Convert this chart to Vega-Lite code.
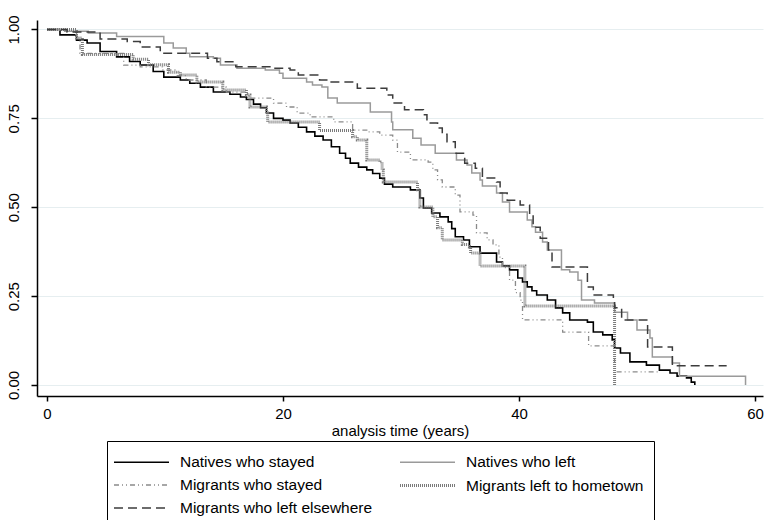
{
  "$schema": "https://vega.github.io/schema/vega-lite/v6.json",
  "width": 726,
  "height": 376,
  "autosize": "none",
  "padding": {"left": 37, "top": 20, "right": 2, "bottom": 124},
  "background": "white",
  "config": {
    "view": {"stroke": null},
    "font": "Liberation Sans",
    "axis": {"labelFont": "Liberation Sans", "titleFont": "Liberation Sans", "labelColor": "black", "titleColor": "black", "domainColor": "black", "tickColor": "black", "domainWidth": 1.5, "tickWidth": 1.5, "labelFontSize": 15, "titleFontSize": 15, "titleFontWeight": "normal"}
  },
  "data": {"values": [
    {"series":"Natives who stayed","t":0,"s":1},{"series":"Natives who stayed","t":1.1,"s":0.985},{"series":"Natives who stayed","t":2.5,"s":0.97},{"series":"Natives who stayed","t":3.4,"s":0.962},{"series":"Natives who stayed","t":4.5,"s":0.938},{"series":"Natives who stayed","t":5.9,"s":0.923},{"series":"Natives who stayed","t":7.0,"s":0.91},{"series":"Natives who stayed","t":7.9,"s":0.9},{"series":"Natives who stayed","t":9.0,"s":0.882},{"series":"Natives who stayed","t":9.9,"s":0.866},{"series":"Natives who stayed","t":11.3,"s":0.858},{"series":"Natives who stayed","t":12.1,"s":0.849},{"series":"Natives who stayed","t":13.0,"s":0.838},{"series":"Natives who stayed","t":14.1,"s":0.824},{"series":"Natives who stayed","t":15.5,"s":0.818},{"series":"Natives who stayed","t":16.4,"s":0.81},{"series":"Natives who stayed","t":16.9,"s":0.803},{"series":"Natives who stayed","t":17.5,"s":0.79},{"series":"Natives who stayed","t":18.1,"s":0.78},{"series":"Natives who stayed","t":18.6,"s":0.765},{"series":"Natives who stayed","t":19.2,"s":0.75},{"series":"Natives who stayed","t":20.0,"s":0.745},{"series":"Natives who stayed","t":20.6,"s":0.737},{"series":"Natives who stayed","t":21.3,"s":0.725},{"series":"Natives who stayed","t":22.0,"s":0.712},{"series":"Natives who stayed","t":22.7,"s":0.7},{"series":"Natives who stayed","t":23.4,"s":0.689},{"series":"Natives who stayed","t":24.1,"s":0.67},{"series":"Natives who stayed","t":24.8,"s":0.652},{"series":"Natives who stayed","t":25.3,"s":0.638},{"series":"Natives who stayed","t":25.7,"s":0.624},{"series":"Natives who stayed","t":26.4,"s":0.613},{"series":"Natives who stayed","t":27.1,"s":0.605},{"series":"Natives who stayed","t":27.6,"s":0.595},{"series":"Natives who stayed","t":28.2,"s":0.582},{"series":"Natives who stayed","t":28.6,"s":0.565},{"series":"Natives who stayed","t":29.3,"s":0.557},{"series":"Natives who stayed","t":30.8,"s":0.549},{"series":"Natives who stayed","t":31.6,"s":0.526},{"series":"Natives who stayed","t":31.9,"s":0.498},{"series":"Natives who stayed","t":32.6,"s":0.484},{"series":"Natives who stayed","t":33.3,"s":0.473},{"series":"Natives who stayed","t":34.0,"s":0.459},{"series":"Natives who stayed","t":34.3,"s":0.44},{"series":"Natives who stayed","t":34.6,"s":0.417},{"series":"Natives who stayed","t":35.3,"s":0.408},{"series":"Natives who stayed","t":35.8,"s":0.389},{"series":"Natives who stayed","t":36.7,"s":0.371},{"series":"Natives who stayed","t":38.1,"s":0.346},{"series":"Natives who stayed","t":38.6,"s":0.335},{"series":"Natives who stayed","t":39.2,"s":0.324},{"series":"Natives who stayed","t":39.9,"s":0.301},{"series":"Natives who stayed","t":40.3,"s":0.29},{"series":"Natives who stayed","t":40.7,"s":0.276},{"series":"Natives who stayed","t":41.1,"s":0.265},{"series":"Natives who stayed","t":41.5,"s":0.253},{"series":"Natives who stayed","t":42.4,"s":0.239},{"series":"Natives who stayed","t":43.1,"s":0.217},{"series":"Natives who stayed","t":43.7,"s":0.203},{"series":"Natives who stayed","t":44.3,"s":0.183},{"series":"Natives who stayed","t":45.8,"s":0.177},{"series":"Natives who stayed","t":46.3,"s":0.149},{"series":"Natives who stayed","t":47.1,"s":0.141},{"series":"Natives who stayed","t":47.9,"s":0.127},{"series":"Natives who stayed","t":48.1,"s":0.104},{"series":"Natives who stayed","t":48.6,"s":0.09},{"series":"Natives who stayed","t":49.4,"s":0.065},{"series":"Natives who stayed","t":50.8,"s":0.056},{"series":"Natives who stayed","t":51.9,"s":0.042},{"series":"Natives who stayed","t":52.8,"s":0.034},{"series":"Natives who stayed","t":53.4,"s":0.025},{"series":"Natives who stayed","t":54.2,"s":0.02},{"series":"Natives who stayed","t":54.6,"s":0.008},{"series":"Natives who stayed","t":54.9,"s":0},
    {"series":"Natives who left","t":0,"s":1},{"series":"Natives who left","t":1.5,"s":0.995},{"series":"Natives who left","t":3.5,"s":0.99},{"series":"Natives who left","t":5.9,"s":0.98},{"series":"Natives who left","t":9.9,"s":0.962},{"series":"Natives who left","t":10.7,"s":0.948},{"series":"Natives who left","t":11.8,"s":0.933},{"series":"Natives who left","t":12.1,"s":0.923},{"series":"Natives who left","t":14.1,"s":0.919},{"series":"Natives who left","t":14.7,"s":0.9},{"series":"Natives who left","t":16.1,"s":0.891},{"series":"Natives who left","t":18.5,"s":0.886},{"series":"Natives who left","t":19.7,"s":0.877},{"series":"Natives who left","t":20.0,"s":0.863},{"series":"Natives who left","t":22.0,"s":0.852},{"series":"Natives who left","t":22.5,"s":0.844},{"series":"Natives who left","t":23.3,"s":0.838},{"series":"Natives who left","t":23.8,"s":0.807},{"series":"Natives who left","t":24.6,"s":0.793},{"series":"Natives who left","t":27.4,"s":0.768},{"series":"Natives who left","t":29.2,"s":0.74},{"series":"Natives who left","t":29.3,"s":0.718},{"series":"Natives who left","t":31.0,"s":0.694},{"series":"Natives who left","t":31.7,"s":0.675},{"series":"Natives who left","t":32.9,"s":0.652},{"series":"Natives who left","t":34.7,"s":0.633},{"series":"Natives who left","t":35.6,"s":0.619},{"series":"Natives who left","t":36.0,"s":0.596},{"series":"Natives who left","t":36.7,"s":0.577},{"series":"Natives who left","t":36.9,"s":0.56},{"series":"Natives who left","t":38.1,"s":0.54},{"series":"Natives who left","t":38.6,"s":0.515},{"series":"Natives who left","t":39.2,"s":0.487},{"series":"Natives who left","t":40.7,"s":0.464},{"series":"Natives who left","t":41.1,"s":0.445},{"series":"Natives who left","t":41.4,"s":0.43},{"series":"Natives who left","t":42.0,"s":0.402},{"series":"Natives who left","t":42.4,"s":0.38},{"series":"Natives who left","t":43.6,"s":0.324},{"series":"Natives who left","t":44.3,"s":0.318},{"series":"Natives who left","t":45.0,"s":0.295},{"series":"Natives who left","t":45.3,"s":0.239},{"series":"Natives who left","t":46.4,"s":0.231},{"series":"Natives who left","t":48.1,"s":0.205},{"series":"Natives who left","t":49.2,"s":0.183},{"series":"Natives who left","t":50.0,"s":0.155},{"series":"Natives who left","t":51.1,"s":0.132},{"series":"Natives who left","t":51.3,"s":0.079},{"series":"Natives who left","t":53.0,"s":0.062},{"series":"Natives who left","t":53.6,"s":0.025},{"series":"Natives who left","t":59.2,"s":0},
    {"series":"Migrants who stayed","t":0,"s":1},{"series":"Migrants who stayed","t":2.5,"s":0.976},{"series":"Migrants who stayed","t":2.8,"s":0.933},{"series":"Migrants who stayed","t":6.5,"s":0.9},{"series":"Migrants who stayed","t":7.9,"s":0.895},{"series":"Migrants who stayed","t":9.8,"s":0.886},{"series":"Migrants who stayed","t":11.0,"s":0.87},{"series":"Migrants who stayed","t":11.8,"s":0.858},{"series":"Migrants who stayed","t":13.5,"s":0.838},{"series":"Migrants who stayed","t":15.2,"s":0.824},{"series":"Migrants who stayed","t":17.0,"s":0.807},{"series":"Migrants who stayed","t":19.2,"s":0.793},{"series":"Migrants who stayed","t":20.3,"s":0.782},{"series":"Migrants who stayed","t":21.2,"s":0.765},{"series":"Migrants who stayed","t":22.3,"s":0.754},{"series":"Migrants who stayed","t":24.3,"s":0.74},{"series":"Migrants who stayed","t":25.9,"s":0.717},{"series":"Migrants who stayed","t":27.1,"s":0.712},{"series":"Migrants who stayed","t":28.2,"s":0.703},{"series":"Migrants who stayed","t":29.3,"s":0.689},{"series":"Migrants who stayed","t":29.7,"s":0.655},{"series":"Migrants who stayed","t":30.8,"s":0.633},{"series":"Migrants who stayed","t":32.3,"s":0.627},{"series":"Migrants who stayed","t":32.7,"s":0.605},{"series":"Migrants who stayed","t":33.1,"s":0.577},{"series":"Migrants who stayed","t":33.5,"s":0.557},{"series":"Migrants who stayed","t":34.6,"s":0.534},{"series":"Migrants who stayed","t":35.0,"s":0.487},{"series":"Migrants who stayed","t":36.1,"s":0.478},{"series":"Migrants who stayed","t":36.4,"s":0.428},{"series":"Migrants who stayed","t":37.3,"s":0.408},{"series":"Migrants who stayed","t":37.8,"s":0.394},{"series":"Migrants who stayed","t":38.3,"s":0.36},{"series":"Migrants who stayed","t":38.6,"s":0.33},{"series":"Migrants who stayed","t":39.2,"s":0.295},{"series":"Migrants who stayed","t":39.7,"s":0.26},{"series":"Migrants who stayed","t":40.1,"s":0.239},{"series":"Migrants who stayed","t":40.3,"s":0.183},{"series":"Migrants who stayed","t":43.7,"s":0.149},{"series":"Migrants who stayed","t":45.9,"s":0.11},{"series":"Migrants who stayed","t":48.1,"s":0.037},{"series":"Migrants who stayed","t":51.9,"s":0.037},
    {"series":"Migrants left to hometown","t":0,"s":1},{"series":"Migrants left to hometown","t":2.5,"s":0.976},{"series":"Migrants left to hometown","t":3.0,"s":0.93},{"series":"Migrants left to hometown","t":7.3,"s":0.916},{"series":"Migrants left to hometown","t":8.6,"s":0.901},{"series":"Migrants left to hometown","t":10.3,"s":0.88},{"series":"Migrants left to hometown","t":11.3,"s":0.872},{"series":"Migrants left to hometown","t":12.7,"s":0.852},{"series":"Migrants left to hometown","t":14.9,"s":0.83},{"series":"Migrants left to hometown","t":16.9,"s":0.816},{"series":"Migrants left to hometown","t":17.2,"s":0.782},{"series":"Migrants left to hometown","t":18.6,"s":0.765},{"series":"Migrants left to hometown","t":18.7,"s":0.74},{"series":"Migrants left to hometown","t":23.1,"s":0.716},{"series":"Migrants left to hometown","t":25.9,"s":0.698},{"series":"Migrants left to hometown","t":26.3,"s":0.689},{"series":"Migrants left to hometown","t":27.1,"s":0.633},{"series":"Migrants left to hometown","t":28.2,"s":0.627},{"series":"Migrants left to hometown","t":28.4,"s":0.605},{"series":"Migrants left to hometown","t":28.5,"s":0.571},{"series":"Migrants left to hometown","t":31.4,"s":0.549},{"series":"Migrants left to hometown","t":31.6,"s":0.501},{"series":"Migrants left to hometown","t":32.7,"s":0.473},{"series":"Migrants left to hometown","t":33.1,"s":0.442},{"series":"Migrants left to hometown","t":33.5,"s":0.408},{"series":"Migrants left to hometown","t":35.2,"s":0.395},{"series":"Migrants left to hometown","t":35.8,"s":0.388},{"series":"Migrants left to hometown","t":35.9,"s":0.371},{"series":"Migrants left to hometown","t":36.7,"s":0.335},{"series":"Migrants left to hometown","t":40.5,"s":0.222},{"series":"Migrants left to hometown","t":48.1,"s":0},
    {"series":"Migrants who left elsewhere","t":0,"s":1},{"series":"Migrants who left elsewhere","t":1.7,"s":0.993},{"series":"Migrants who left elsewhere","t":4.5,"s":0.973},{"series":"Migrants who left elsewhere","t":6.8,"s":0.966},{"series":"Migrants who left elsewhere","t":7.9,"s":0.951},{"series":"Migrants who left elsewhere","t":9.6,"s":0.933},{"series":"Migrants who left elsewhere","t":13.6,"s":0.919},{"series":"Migrants who left elsewhere","t":14.4,"s":0.909},{"series":"Migrants who left elsewhere","t":16.0,"s":0.895},{"series":"Migrants who left elsewhere","t":19.2,"s":0.891},{"series":"Migrants who left elsewhere","t":20.6,"s":0.886},{"series":"Migrants who left elsewhere","t":21.3,"s":0.872},{"series":"Migrants who left elsewhere","t":23.1,"s":0.858},{"series":"Migrants who left elsewhere","t":23.8,"s":0.852},{"series":"Migrants who left elsewhere","t":26.3,"s":0.835},{"series":"Migrants who left elsewhere","t":28.8,"s":0.816},{"series":"Migrants who left elsewhere","t":29.3,"s":0.793},{"series":"Migrants who left elsewhere","t":30.3,"s":0.774},{"series":"Migrants who left elsewhere","t":31.9,"s":0.76},{"series":"Migrants who left elsewhere","t":32.2,"s":0.737},{"series":"Migrants who left elsewhere","t":33.1,"s":0.723},{"series":"Migrants who left elsewhere","t":33.5,"s":0.705},{"series":"Migrants who left elsewhere","t":33.9,"s":0.684},{"series":"Migrants who left elsewhere","t":34.6,"s":0.652},{"series":"Migrants who left elsewhere","t":35.4,"s":0.624},{"series":"Migrants who left elsewhere","t":36.3,"s":0.61},{"series":"Migrants who left elsewhere","t":36.9,"s":0.582},{"series":"Migrants who left elsewhere","t":38.1,"s":0.571},{"series":"Migrants who left elsewhere","t":38.4,"s":0.54},{"series":"Migrants who left elsewhere","t":39.0,"s":0.52},{"series":"Migrants who left elsewhere","t":40.1,"s":0.506},{"series":"Migrants who left elsewhere","t":40.9,"s":0.478},{"series":"Migrants who left elsewhere","t":41.2,"s":0.444},{"series":"Migrants who left elsewhere","t":41.8,"s":0.413},{"series":"Migrants who left elsewhere","t":42.5,"s":0.38},{"series":"Migrants who left elsewhere","t":42.8,"s":0.332},{"series":"Migrants who left elsewhere","t":45.8,"s":0.276},{"series":"Migrants who left elsewhere","t":46.3,"s":0.253},{"series":"Migrants who left elsewhere","t":48.0,"s":0.239},{"series":"Migrants who left elsewhere","t":48.1,"s":0.217},{"series":"Migrants who left elsewhere","t":48.7,"s":0.183},{"series":"Migrants who left elsewhere","t":50.9,"s":0.107},{"series":"Migrants who left elsewhere","t":53.0,"s":0.054},{"series":"Migrants who left elsewhere","t":57.6,"s":0.054}
  ]},
  "mark": {"type": "line", "interpolate": "step-after"},
  "encoding": {
    "x": {"field": "t", "type": "quantitative", "title": "analysis time (years)",
      "scale": {"domain": [-0.847, 60.68], "nice": false, "zero": false},
      "axis": {"values": [0, 20, 40, 60], "grid": false, "tickSize": 5, "labelPadding": 5, "titlePadding": 2, "format": "d"}},
    "y": {"field": "s", "type": "quantitative", "title": null,
      "scale": {"domain": [-0.0309, 1.0267], "nice": false, "zero": false},
      "axis": {"values": [0, 0.25, 0.5, 0.75, 1], "format": ".2f", "labelAngle": -90, "tickSize": 6, "labelPadding": 10, "grid": true, "gridColor": "#e6eef0", "gridWidth": 1}},
    "color": {"field": "series", "type": "nominal",
      "scale": {"domain": ["Natives who stayed", "Natives who left", "Migrants who stayed", "Migrants left to hometown", "Migrants who left elsewhere"],
                "range": ["#000000", "#9a9a9a", "#8a8a8a", "#7a7a7a", "#3c3c3c"]},
      "legend": {"orient": "none", "direction": "horizontal", "legendX": 70, "legendY": 421, "columns": 2, "title": null,
        "symbolType": "M-2.75,0H2.75", "symbolSize": 400, "symbolOffset": 13, "labelOffset": 27,
        "labelFontSize": 15.5, "labelFont": "Liberation Sans", "labelColor": "black", "labelLimit": 400,
        "columnPadding": 21, "rowPadding": 3, "padding": 10, "strokeColor": "black", "fillColor": "white"}},
    "strokeDash": {"field": "series", "type": "nominal",
      "scale": {"domain": ["Natives who stayed", "Natives who left", "Migrants who stayed", "Migrants left to hometown", "Migrants who left elsewhere"],
                "range": [[1, 0], [1, 0], [5, 3, 1, 3, 1, 3], [1, 1], [9, 5]]}},
    "strokeWidth": {"field": "series", "type": "nominal",
      "scale": {"type": "ordinal", "domain": ["Natives who stayed", "Natives who left", "Migrants who stayed", "Migrants left to hometown", "Migrants who left elsewhere"],
                "range": [1.6, 1.5, 1.3, 3, 1.5]}}
  }
}
